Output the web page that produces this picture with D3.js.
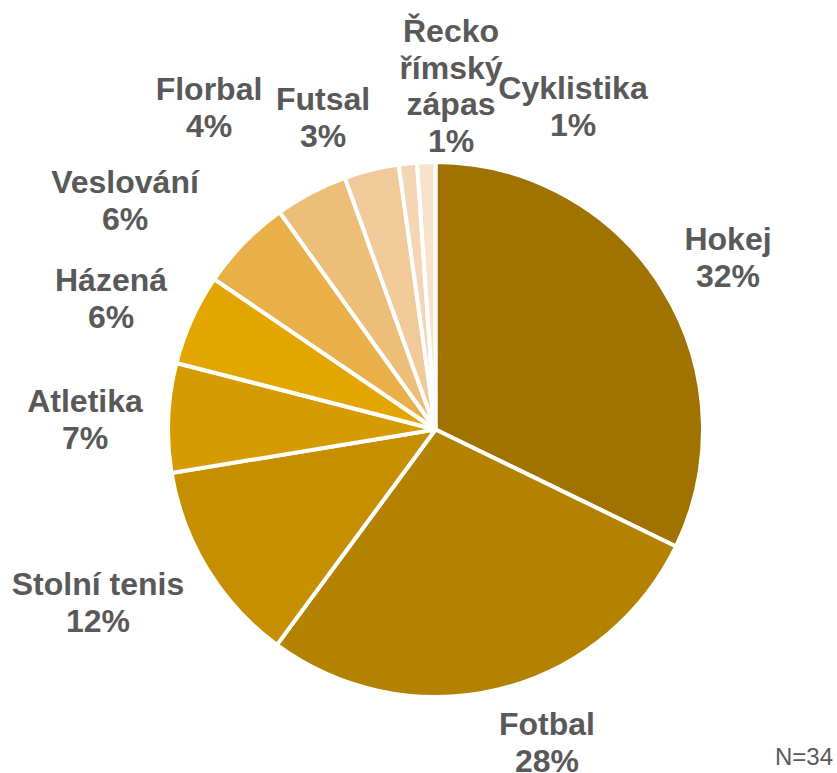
<!DOCTYPE html>
<html>
<head>
<meta charset="utf-8">
<script src="https://cdn.jsdelivr.net/npm/d3@7"></script>
<style>
  html, body { margin: 0; padding: 0; background: #fff; }
  svg { display: block; }
  text { font-family: "Liberation Sans", Arial, sans-serif; }
</style>
</head>
<body>
<script>
// Sports of respondents (share in %)
const categories = ["Hokej", "Fotbal", "Stolní tenis", "Atletika", "Házená",
  "Veslování", "Florbal", "Futsal", "Řecko\nřímský\nzápas", "Cyklistika"];
const shares = [32.2, 27.9, 12.3, 6.6, 5.5, 5.6, 4.4, 3.3, 1.1, 1.1];
const sliceColors = ["#A07300", "#B38200", "#C68F00", "#D59B00", "#E3A600",
  "#E9B04A", "#EDBE78", "#F1CA9A", "#F4D6B4", "#F7E2CD"];
const sampleNote = "N=34";

const width = 837, height = 773;
const cx = 435.5, cy = 429.5, radius = 267.5;

// Label layout: centre x and first baseline of each label block (page pixels),
// hand placed around the rim the way the best-fit layout sets them.
const labelLayout = {
  "Hokej": [728, 250],
  "Fotbal": [547, 735],
  "Stolní tenis": [98, 595],
  "Atletika": [85, 412],
  "Házená": [111, 291],
  "Veslování": [125, 193],
  "Florbal": [209, 100],
  "Futsal": [323, 110],
  "Řecko\nřímský\nzápas": [451, 42],
  "Cyklistika": [573, 99]
};

const svg = d3.select("body").append("svg")
  .attr("width", width).attr("height", height);

const data = categories.map((c, i) => ({ name: c, value: shares[i], color: sliceColors[i] }));

const pie = d3.pie().value(d => d.value).sort(null);
const arc = d3.arc().innerRadius(0).outerRadius(radius);
const arcs = pie(data);

svg.append("g")
  .attr("transform", `translate(${cx},${cy})`)
  .selectAll("path.slice")
  .data(arcs)
  .join("path")
  .attr("class", "slice")
  .attr("d", arc)
  .attr("fill", d => d.data.color)
  .attr("stroke", "#fff")
  .attr("stroke-width", 4)
  .attr("stroke-linejoin", "round");

const fontSize = 32, lineH = 36.5;
svg.append("g")
  .selectAll("text.label")
  .data(arcs)
  .join("text")
  .attr("class", "label")
  .attr("text-anchor", "middle")
  .attr("fill", "#595959")
  .attr("font-size", fontSize)
  .attr("font-weight", "bold")
  .each(function (d) {
    const [lx, ly] = labelLayout[d.data.name];
    const lines = d.data.name.split("\n").concat([Math.round(d.data.value) + "%"]);
    d3.select(this).selectAll("tspan")
      .data(lines)
      .join("tspan")
      .attr("x", lx)
      .attr("y", (s, i) => ly + i * lineH)
      .text(s => s);
  });

svg.append("text")
  .attr("x", 833).attr("y", 765)
  .attr("text-anchor", "end")
  .attr("fill", "#595959")
  .attr("font-size", 24)
  .text(sampleNote);
</script>
</body>
</html>
